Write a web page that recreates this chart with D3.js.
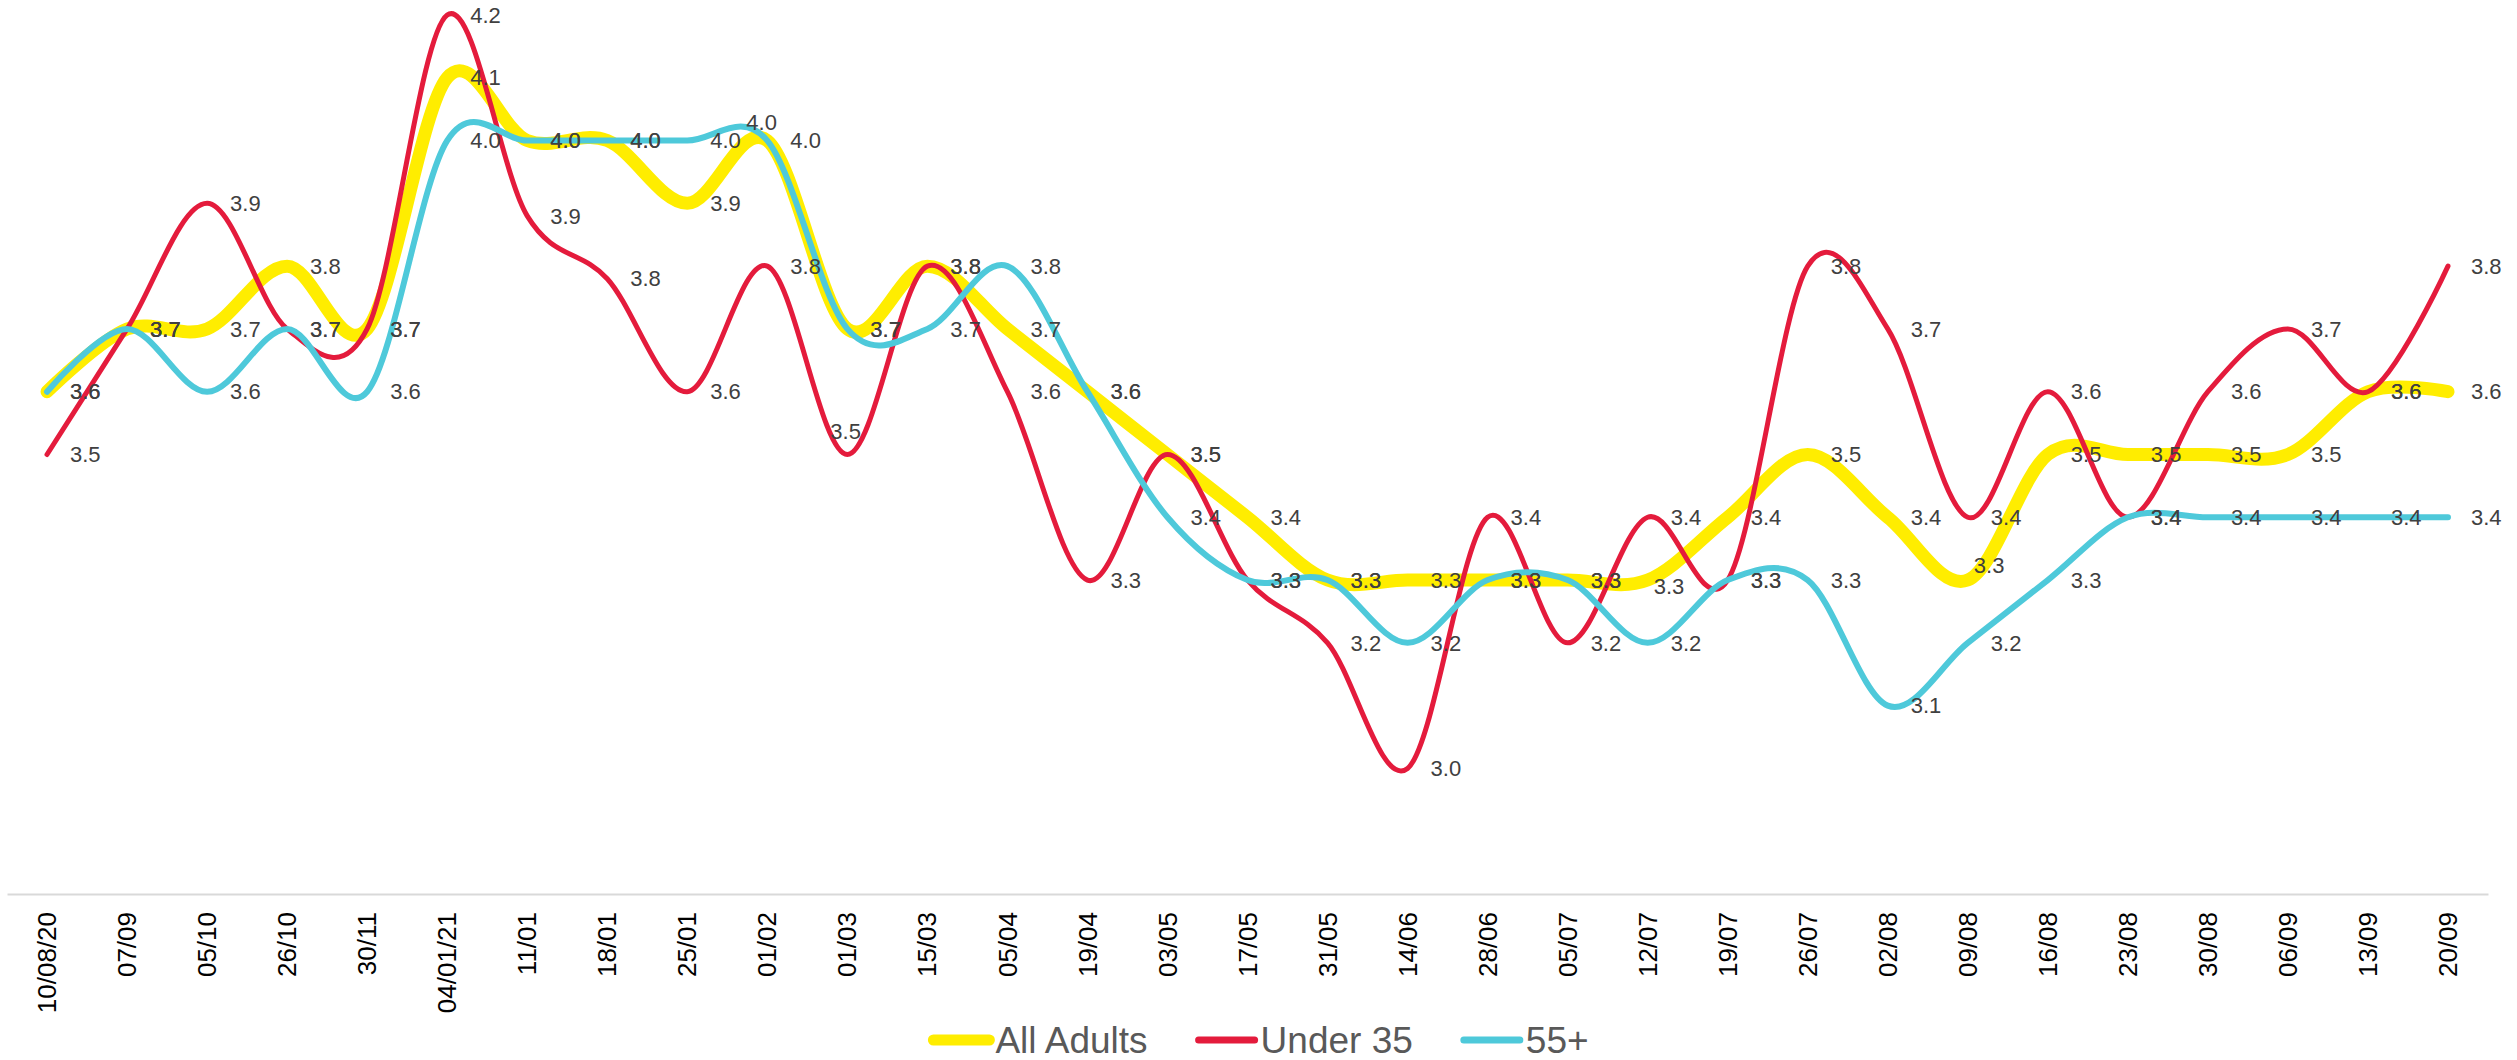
<!DOCTYPE html>
<html>
<head>
<meta charset="utf-8">
<script src="https://cdn.jsdelivr.net/npm/d3@7"></script>
<style>
  body { margin: 0; background: #fff; }
  svg { display: block; font-family: "Liberation Sans", Arial, sans-serif; }
</style>
</head>
<body>
<svg id="chart"></svg>
<script>
const categories = ["10/08/20", "07/09", "05/10", "26/10", "30/11", "04/01/21", "11/01", "18/01", "25/01", "01/02",
    "01/03", "15/03", "05/04", "19/04", "03/05", "17/05", "31/05", "14/06", "28/06", "05/07",
    "12/07", "19/07", "26/07", "02/08", "09/08", "16/08", "23/08", "30/08", "06/09", "13/09", "20/09"];

const allAdults = [3.6, 3.7, 3.7, 3.8, 3.7, 4.1, 4.0, 4.0, 3.9, 4.0,
    3.7, 3.8, 3.7, 3.6, 3.5, 3.4, 3.3, 3.3, 3.3, 3.3,
    3.3, 3.4, 3.5, 3.4, 3.3, 3.5, 3.5, 3.5, 3.5, 3.6, 3.6];

const under35 = [3.5, 3.7, 3.9, 3.7, 3.7, 4.2, 3.88, 3.78, 3.6, 3.8,
    3.5, 3.8, 3.6, 3.3, 3.5, 3.3, 3.2, 3.0, 3.4, 3.2,
    3.4, 3.3, 3.8, 3.7, 3.4, 3.6, 3.4, 3.6, 3.7, 3.6, 3.8];

const over55 = [3.6, 3.7, 3.6, 3.7, 3.6, 4.0, 4.0, 4.0, 4.0, 4.0,
    3.7, 3.7, 3.8, 3.6, 3.4, 3.3, 3.3, 3.2, 3.3, 3.3,
    3.2, 3.3, 3.3, 3.1, 3.2, 3.3, 3.4, 3.4, 3.4, 3.4, 3.4];

const seriesNames = ["All Adults", "Under 35", "55+"];
const seriesColors = ["#ffed00", "#e41b3c", "#4ec9da"];
const seriesWidths = [13, 5, 6];

const width = 2517;
const height = 1060;

const svg = d3.select("#chart")
    .attr("width", width)
    .attr("height", height);

const series = [allAdults, under35, over55].map((values, i) => ({
    key: i,
    name: seriesNames[i],
    color: seriesColors[i],
    width: seriesWidths[i],
    values: values
}));

const x = d3.scaleBand()
    .domain(categories)
    .range([7, 2488]);
const cx = c => x(c) + x.bandwidth() / 2;

const y = d3.scaleLinear()
    .domain([2.8, 4.2])
    .range([894, 15]);

// category axis
const axis = svg.append("g")
    .attr("transform", `translate(0,${y(2.8)})`)
    .call(d3.axisBottom(x).tickSize(0).tickSizeOuter(0));

axis.select(".domain")
    .attr("stroke", "#d9d9d9")
    .attr("stroke-width", 2);

axis.selectAll(".tick text")
    .attr("transform", "rotate(-90)")
    .attr("x", -18)
    .attr("y", 0)
    .attr("dy", "0.35em")
    .style("text-anchor", "end")
    .style("font-size", "26px")
    .style("font-family", "'Liberation Sans', Arial, sans-serif")
    .attr("fill", "#000");

const line = d3.line()
    .x((d, i) => cx(categories[i]))
    .y(d => y(d))
    .curve(d3.curveCatmullRom.alpha(0));

svg.append("g")
    .selectAll("path")
    .data(series)
    .enter().append("path")
    .attr("d", d => line(d.values))
    .attr("fill", "none")
    .attr("stroke", d => d.color)
    .attr("stroke-width", d => d.width)
    .attr("stroke-linecap", "round")
    .attr("stroke-linejoin", "round");

// a few labels were dragged away from the default right position
const labelNudge = {
    "2-9": [-44, -18],
    "1-10": [-40, -23],
    "0-20": [-17, 6],
    "0-24": [-17, -15]
};

const fmt = d3.format(".1f");
svg.append("g")
    .selectAll("g")
    .data(series)
    .enter().append("g")
    .selectAll("text")
    .data(s => s.values.map((v, i) => ({ v, i, k: s.key + "-" + i })))
    .enter().append("text")
    .attr("x", d => cx(categories[d.i]) + 23 + (labelNudge[d.k] ? labelNudge[d.k][0] : 0))
    .attr("y", d => y(d.v) + (labelNudge[d.k] ? labelNudge[d.k][1] : 0))
    .attr("dy", "0.35em")
    .attr("fill", "#404040")
    .style("font-size", "22px")
    .text(d => fmt(d.v));

// legend
const legend = svg.append("g");

let lx = 0;
const items = legend.selectAll("g")
    .data(series)
    .enter().append("g");

items.append("line")
    .attr("x1", 0)
    .attr("x2", 56)
    .attr("stroke", d => d.color)
    .attr("stroke-width", d => d.key === 0 ? 11 : 7)
    .attr("stroke-linecap", "round");

items.append("text")
    .attr("x", 62)
    .attr("dy", "0.35em")
    .attr("fill", "#595959")
    .style("font-size", "37px")
    .text(d => d.name);

items.each(function() {
    const w = 62 + d3.select(this).select("text").node().getComputedTextLength();
    d3.select(this).attr("transform", `translate(${lx},0)`);
    lx += w + 51;
});
const legendWidth = lx - 51;
legend.attr("transform", `translate(${1258 - legendWidth / 2 + 3},1040)`);
</script>
</body>
</html>
